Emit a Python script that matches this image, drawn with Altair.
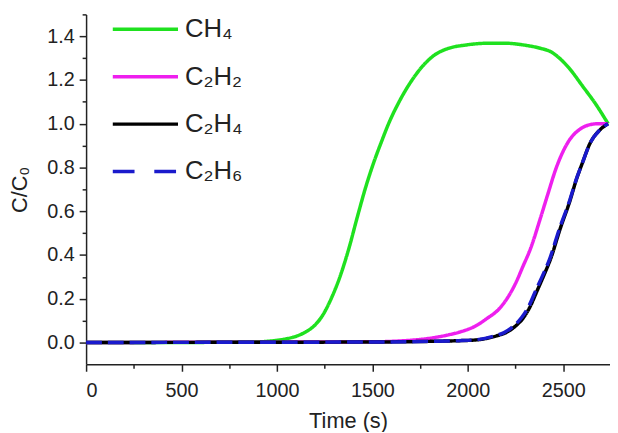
import altair as alt
import pandas as pd

# ---- data ----
names = ["CH₄", "C₂H₂", "C₂H₄", "C₂H₆"]
colors = ["#1fe11f", "#ee1fee", "#000000", "#1a1acc"]
dashes = [[1, 0], [1, 0], [1, 0], [16, 6]]
legend_dashes = [[1, 0], [1, 0], [1, 0], [22, 20]]

ch4_t = [0, 500, 900, 1000, 1050, 1100, 1150, 1200, 1240, 1284, 1330, 1377, 1420, 1465, 1510, 1553, 1580,
         1646, 1708, 1770, 1827, 1900, 1990, 2100, 2200, 2293, 2380, 2433, 2480, 2530, 2603, 2670, 2735]
ch4_v = [0, 0, 0.003, 0.01, 0.017, 0.028, 0.048, 0.08, 0.125, 0.20, 0.30, 0.43, 0.57, 0.71, 0.83, 0.93, 0.99,
         1.11, 1.20, 1.27, 1.315, 1.345, 1.36, 1.368, 1.368, 1.36, 1.345, 1.33, 1.30, 1.255, 1.17, 1.09, 1.0]

c2h2_t = [0, 1500, 1700, 1791, 1900, 1967, 2040, 2101, 2160, 2205, 2250, 2290, 2329, 2381, 2420, 2464, 2500,
          2536, 2580, 2619, 2680, 2735]
c2h2_v = [0, 0.003, 0.01, 0.018, 0.035, 0.05, 0.075, 0.11, 0.15, 0.20, 0.27, 0.35, 0.43, 0.57, 0.68, 0.80, 0.875,
          0.93, 0.97, 0.99, 1.0, 1.0]

c2h4_t = [0, 1500, 1800, 1950, 2050, 2150, 2200, 2250, 2293, 2330, 2360, 2400, 2433, 2484, 2536, 2567, 2600,
          2640, 2690, 2735]
c2h4_v = [0, 0.002, 0.005, 0.008, 0.012, 0.03, 0.045, 0.075, 0.115, 0.17, 0.23, 0.31, 0.38, 0.52, 0.65, 0.74, 0.82,
          0.91, 0.97, 1.0]

c2h6_t = [0, 1500, 1800, 1950, 2040, 2140, 2190, 2240, 2283, 2322, 2352, 2394, 2428, 2480, 2534, 2566, 2600,
          2640, 2690, 2735]
c2h6_v = [0, 0.002, 0.005, 0.008, 0.012, 0.03, 0.045, 0.075, 0.115, 0.17, 0.23, 0.31, 0.38, 0.52, 0.65, 0.74, 0.82,
          0.91, 0.97, 1.0]

x_major = [0, 500, 1000, 1500, 2000, 2500]
x_minor = [250, 750, 1250, 1750, 2250]
y_major = [0.0, 0.2, 0.4, 0.6, 0.8, 1.0, 1.2, 1.4]
y_minor = [0.1, 0.3, 0.5, 0.7, 0.9, 1.1, 1.3, 1.5]

all_t = [ch4_t, c2h2_t, c2h4_t, c2h6_t]
all_v = [ch4_v, c2h2_v, c2h4_v, c2h6_v]
rows = []
for name, ts, vs in zip(names, all_t, all_v):
    for t, v in zip(ts, vs):
        rows.append({"name": name, "t": t, "v": v})
df = pd.DataFrame(rows)
# one point per series: draws no visible line, only feeds the legend
df_leg = pd.DataFrame([{"name": n, "t": ts[0], "v": vs[0]} for n, ts, vs in zip(names, all_t, all_v)])

FONT = "Liberation Sans"
xscale = alt.Scale(domain=[0, 2745], nice=False, zero=False)
yscale = alt.Scale(domain=[-0.1, 1.5], nice=False, zero=False)

common_axis = dict(grid=False, domainColor="#222", domainWidth=1.5, tickColor="#222",
                   tickWidth=1.5, labelFont=FONT, labelFontSize=20, labelColor="#222",
                   titleFont=FONT, titleFontSize=22, titleColor="#222", titleFontWeight="normal")

leg = alt.Legend(
    orient="none", legendX=25, legendY=-20, title=None, symbolType="stroke",
    symbolSize=4356, symbolStrokeWidth=3.5, labelFont=FONT, labelFontSize=26,
    labelColor="#222", rowPadding=-28, labelOffset=5, padding=0, symbolOpacity=1,
)

lines = alt.Chart(df).mark_line(strokeWidth=3.5, interpolate="monotone").encode(
    x=alt.X("t:Q", scale=xscale, axis=alt.Axis(values=x_major, title="Time (s)", orient="bottom", format="d",
                                               tickSize=7, labelPadding=10, titlePadding=10, **common_axis)),
    y=alt.Y("v:Q", scale=yscale, axis=alt.Axis(values=y_major, title="C/C₀", orient="left", format=".1f",
                                               tickSize=7, labelPadding=5, titlePadding=15, **common_axis)),
    color=alt.Color("name:N", scale=alt.Scale(domain=names, range=colors), legend=None),
    strokeDash=alt.StrokeDash("name:N", scale=alt.Scale(domain=names, range=dashes), legend=None),
    order=alt.Order("t:Q"),
)

minor = alt.Chart(df).mark_line(opacity=0).encode(
    x=alt.X("t:Q", scale=xscale, axis=alt.Axis(values=x_minor, title=None, labels=False, orient="bottom",
                                               tickSize=4, domain=False, grid=False, tickColor="#222", tickWidth=1.5)),
    y=alt.Y("v:Q", scale=yscale, axis=alt.Axis(values=y_minor, title=None, labels=False, orient="left",
                                               tickSize=4, domain=False, grid=False, tickColor="#222", tickWidth=1.5)),
    detail="name:N",
)

legend_layer = alt.Chart(df_leg).mark_line(strokeWidth=3.5).encode(
    x=alt.X("t:Q", scale=xscale, axis=None),
    y=alt.Y("v:Q", scale=yscale, axis=None),
    color=alt.Color("name:N", scale=alt.Scale(domain=names, range=colors), legend=leg),
    strokeDash=alt.StrokeDash("name:N", scale=alt.Scale(domain=names, range=legend_dashes), legend=leg),
)

chart = alt.layer(lines, minor, legend_layer).resolve_axis(x="independent", y="independent").resolve_scale(
    color="independent", strokeDash="independent"
).properties(
    width=530, height=354,
    autosize=alt.AutoSizeParams(type="none"),
    padding={"left": 79, "top": 4, "right": 0, "bottom": 66},
).configure_view(stroke=None)

chart.save("out.html", embed_options={"renderer": "svg", "actions": False})
